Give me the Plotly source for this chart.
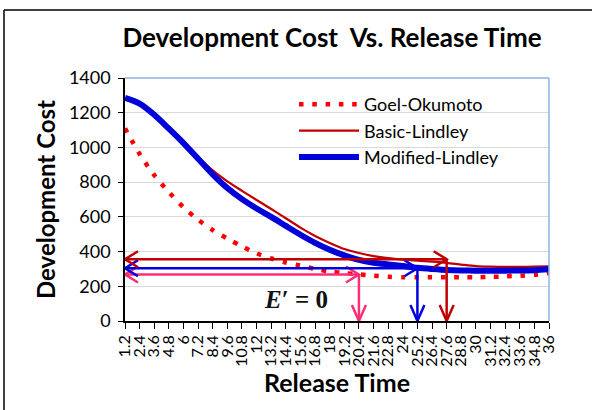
import plotly.graph_objects as go

# ---- data ----
release_time = [1.2, 2.4, 3.6, 4.8, 6, 7.2, 8.4, 9.6, 10.8, 12, 13.2, 14.4, 15.6, 16.8, 18,
                19.2, 20.4, 21.6, 22.8, 24, 25.2, 26.4, 27.6, 28.8, 30, 31.2, 32.4, 33.6, 34.8, 36]
tick_labels = ["1.2", "2.4", "3.6", "4.8", "6", "7.2", "8.4", "9.6", "10.8", "12", "13.2", "14.4",
               "15.6", "16.8", "18", "19.2", "20.4", "21.6", "22.8", "24", "25.2", "26.4", "27.6",
               "28.8", "30", "31.2", "32.4", "33.6", "34.8", "36"]
goel_okumoto = [1110, 962, 840, 743, 655, 583, 524, 475, 430, 390, 360, 337, 319, 300, 285,
                276, 269, 261, 255, 252, 252, 252, 252, 252, 252, 254, 257, 261, 266, 276]
basic_lindley = [1285, 1255, 1190, 1112, 1030, 945, 868, 805, 750, 697, 645, 592, 538, 490, 450,
                 415, 392, 374, 362, 354, 348, 342, 335, 325, 316, 313, 312, 312, 313, 315]
modified_lindley = [1285, 1252, 1188, 1108, 1025, 935, 845, 766, 702, 648, 600, 548, 497, 450, 410,
                    378, 352, 336, 326, 317, 307, 300, 294, 291, 290, 290, 290, 291, 293, 298]
y_ticks = [0, 200, 400, 600, 800, 1000, 1200, 1400]

# optimal release (E' = 0) markers: pink = Goel-Okumoto, blue = Modified, dark red = Basic
opt_times = [20.4, 25.2, 27.6]
opt_costs = [268, 304, 356]
opt_colors = ["#ff2d78", "#0000e0", "#c00000"]

# ---- geometry helpers (pixel sizes of arrowheads converted to data units) ----
W, H = 592, 410
ML, MR, MT, MB = 125, 43, 78, 89
pw, ph = W - ML - MR, H - MT - MB
x0, x1 = release_time[0], release_time[-1]
ymax = y_ticks[-1]
ux = pw / (x1 - x0)      # px per x unit
uy = ph / ymax           # px per y unit

fig = go.Figure()

font_main = "Lato, 'Open Sans', sans-serif"

fig.add_trace(go.Scatter(x=release_time, y=goel_okumoto, name="Goel-Okumoto", mode="lines",
                         line=dict(color="#ff0000", width=4.5, dash="4.5px,8.8px", shape="spline", smoothing=0.8)))
fig.add_trace(go.Scatter(x=release_time, y=basic_lindley, name="Basic-Lindley", mode="lines",
                         line=dict(color="#c00000", width=2.2, shape="spline", smoothing=0.8)))
fig.add_trace(go.Scatter(x=release_time, y=modified_lindley, name="Modified-Lindley", mode="lines",
                         line=dict(color="#0000d8", width=6, shape="spline", smoothing=0.8)))

# arrows
hl, hw = 13, 8      # horizontal arrowhead length/half-width (px)
vl, vw = 16, 7      # vertical arrowhead
for t, c, col in zip(opt_times, opt_costs, opt_colors):
    xs, ys = [], []
    xs += [x0, t, None]; ys += [c, c, None]
    xs += [x0 + hl / ux, x0, x0 + hl / ux, None]; ys += [c + hw / uy, c, c - hw / uy, None]
    xs += [t - hl / ux, t, t - hl / ux, None]; ys += [c + hw / uy, c, c - hw / uy, None]
    xs += [t, t, None]; ys += [c, 0, None]
    xs += [t - vw / ux, t, t + vw / ux]; ys += [vl / uy, 0, vl / uy]
    fig.add_trace(go.Scatter(x=xs, y=ys, mode="lines", showlegend=False, hoverinfo="skip",
                             line=dict(color=col, width=2.5)))

fig.add_annotation(x=x0 + (296 - ML) / ux, y=(ph - (299 - MT)) / uy, xref="x", yref="y",
                   text="<b><i>E</i>′ = 0</b>", showarrow=False,
                   font=dict(family="'Liberation Serif', 'DejaVu Serif', serif", size=25, color="#111111"))

# plot-area border (top & right) in light blue
fig.add_shape(type="line", xref="paper", yref="paper", x0=0, x1=1, y0=1, y1=1,
              line=dict(color="#8db3e2", width=1.5))
fig.add_shape(type="line", xref="paper", yref="paper", x0=1, x1=1, y0=0, y1=1,
              line=dict(color="#8db3e2", width=1.5))
# outer chart frame (left and top edges visible)
fl = (4 - ML) / pw
ft = (H - MB - 10) / ph
fig.add_shape(type="line", xref="paper", yref="paper", x0=fl, x1=fl, y0=-MB / ph - 0.05, y1=ft,
              line=dict(color="#000000", width=1.5))
fig.add_shape(type="line", xref="paper", yref="paper", x0=fl, x1=(W - ML) / pw + 0.05, y0=ft, y1=ft,
              line=dict(color="#000000", width=1.5))

fig.update_layout(
    width=W, height=H,
    margin=dict(l=ML, r=MR, t=MT, b=MB),
    paper_bgcolor="white", plot_bgcolor="white",
    font=dict(family=font_main, color="#000000"),
    title=dict(text="<b>Development Cost\u00a0\u00a0Vs. Release Time</b>", x=332 / W, xanchor="center",
               y=1 - 38 / H, yanchor="middle", font=dict(size=26, family=font_main, color="#000000")),
    legend=dict(x=(294 - ML) / pw, y=1 - (86 - MT) / ph, xanchor="left", yanchor="top",
                bgcolor="rgba(0,0,0,0)", font=dict(size=18, family=font_main),
                tracegroupgap=0, itemwidth=60),
    showlegend=True,
)
fig.update_xaxes(range=[x0, x1], tickmode="array", tickvals=release_time, ticktext=tick_labels,
                 tickangle=-90, tickfont=dict(size=16, family=font_main),
                 showline=True, linecolor="#000000", linewidth=1.5,
                 ticks="outside", ticklen=6, tickcolor="#000000", showgrid=False, zeroline=False,
                 title=dict(text="<b>Release Time</b>", font=dict(size=25, family=font_main), standoff=2))
fig.update_yaxes(range=[0, ymax], tickmode="array", tickvals=y_ticks,
                 tickfont=dict(size=18, family=font_main), ticklabelstandoff=4,
                 showline=True, linecolor="#000000", linewidth=1.5,
                 ticks="outside", ticklen=5, tickcolor="#000000",
                 showgrid=True, gridcolor="#d9d9d9", gridwidth=1, zeroline=False,
                 title=dict(text="<b>Development Cost</b>", font=dict(size=24, family=font_main), standoff=6))

fig.write_html("out.html", config={"displayModeBar": False},
               post_script="document.body.style.margin='0';document.body.style.padding='0';")
